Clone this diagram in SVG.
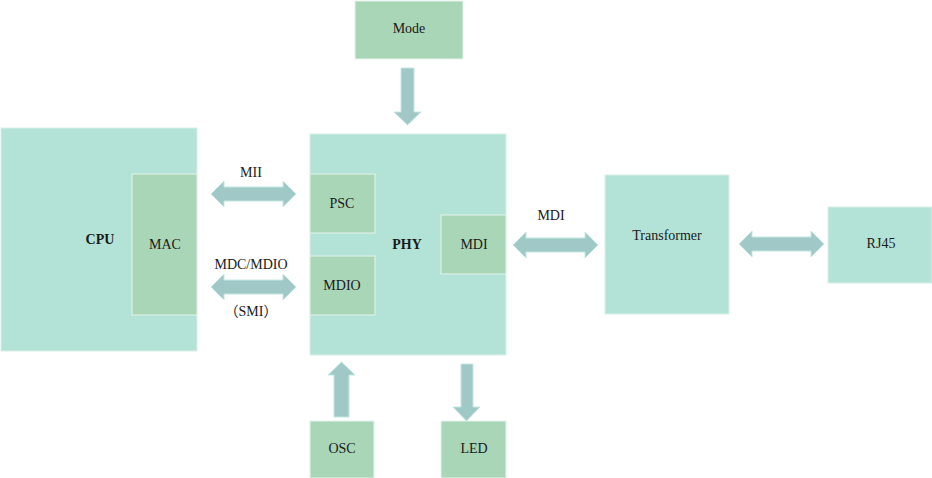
<svg xmlns="http://www.w3.org/2000/svg" width="932" height="478" viewBox="0 0 932 478">
<style>
.big{fill:#b3e3d6;stroke:#d8f0e8;stroke-width:1}
.small{fill:#a9d6b6;stroke:#e4f4ee;stroke-width:1}
.arr{fill:#a0c8c6;stroke:#c4e8e2;stroke-width:1}
text{font-family:"Liberation Serif","Times New Roman",serif;font-size:14px;fill:#1a1a1a;text-anchor:middle}
.cjk{font-family:"Liberation Serif","Noto Sans CJK SC",serif}
.b{font-weight:bold}
</style>
<rect width="932" height="478" fill="#ffffff"/>
<g id="cpu"><rect class="big" x="1" y="128" width="196" height="223"/><text class="b" x="100" y="244">CPU</text></g>
<g id="mac"><rect class="small" x="132" y="174" width="65" height="141"/><text x="165" y="249">MAC</text></g>
<g id="phy"><rect class="big" x="310" y="134" width="196" height="221"/><text class="b" x="407" y="249">PHY</text></g>
<g id="psc"><rect class="small" x="310" y="174" width="65" height="59"/><text x="342" y="208">PSC</text></g>
<g id="mdio"><rect class="small" x="310" y="256" width="65" height="59"/><text x="342" y="290">MDIO</text></g>
<g id="mdi"><rect class="small" x="441" y="215" width="65" height="59"/><text x="474" y="249">MDI</text></g>
<g id="transformer"><rect class="big" x="605" y="175" width="124" height="139"/><text x="667" y="240">Transformer</text></g>
<g id="rj45"><rect class="big" x="828" y="207" width="104" height="76"/><text x="881" y="248">RJ45</text></g>
<g id="mode"><rect class="small" x="355" y="1" width="108" height="58"/><text x="409" y="33">Mode</text></g>
<g id="osc"><rect class="small" x="310" y="421" width="64" height="57"/><text x="342" y="453">OSC</text></g>
<g id="led"><rect class="small" x="441" y="421" width="65" height="57"/><text x="474" y="453">LED</text></g>
<g id="connectors">
<polygon class="arr" points="211,194 224,181 224,187 283,187 283,181 296,194 283,207 283,201 224,201 224,207"/>
<polygon class="arr" points="211,287 224,274 224,280 283,280 283,274 296,287 283,300 283,294 224,294 224,300"/>
<polygon class="arr" points="513,245 526,232 526,238 585,238 585,232 598,245 585,258 585,252 526,252 526,258"/>
<polygon class="arr" points="739,244 752,231 752,237 811,237 811,231 824,244 811,257 811,251 752,251 752,257"/>
<polygon class="arr" points="401,68 414,68 414,112 421,112 407.5,125 394,112 401,112"/>
<polygon class="arr" points="334,417 349,417 349,375 355,375 341.5,362 328,375 334,375"/>
<polygon class="arr" points="461,364 473,364 473,407 480,407 466.5,421 453,407 461,407"/>
<text x="251" y="177">MII</text>
<text x="251" y="269">MDC/MDIO</text>
<text class="cjk" x="251" y="316">（SMI）</text>
<text x="551" y="220">MDI</text>
</g>
</svg>
